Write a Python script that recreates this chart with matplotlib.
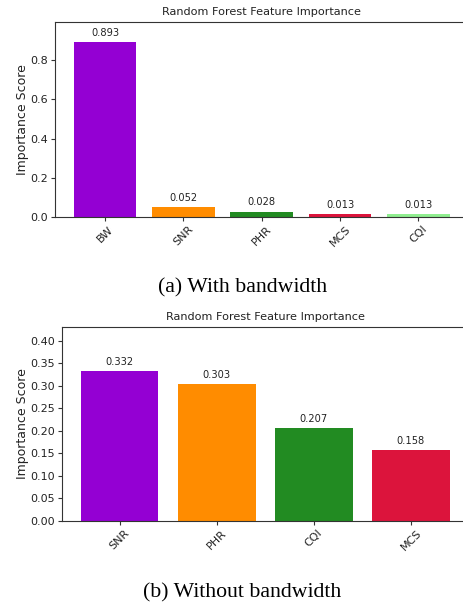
import matplotlib
matplotlib.use("Agg")
import matplotlib.pyplot as plt

# Feature importances from the random forest, with and without the bandwidth feature
features_bw = ["BW", "SNR", "PHR", "MCS", "CQI"]
scores_bw = [0.893, 0.052, 0.028, 0.013, 0.013]
colors_bw = ["darkviolet", "darkorange", "forestgreen", "crimson", "lightgreen"]

features_nobw = ["SNR", "PHR", "CQI", "MCS"]
scores_nobw = [0.332, 0.303, 0.207, 0.158]
colors_nobw = ["darkviolet", "darkorange", "forestgreen", "crimson"]

yticks_bw = [0.0, 0.2, 0.4, 0.6, 0.8]
yticks_nobw = [0.00, 0.05, 0.10, 0.15, 0.20, 0.25, 0.30, 0.35, 0.40]

W, H = 463, 605
fig = plt.figure(figsize=(W / 100, H / 100), dpi=100)


def px_axes(left, right, top, bottom):
    return fig.add_axes([left / W, (H - bottom) / H, (right - left) / W, (bottom - top) / H])


def draw_panel(ax, names, vals, cols, yticks, ytop, fmt, xpad):
    x = list(range(len(names)))
    bars = ax.bar(x, vals, color=cols, width=0.8)
    for b, v in zip(bars, vals):
        ax.annotate(f"{v:.3f}", (b.get_x() + b.get_width() / 2, v),
                    xytext=(0, 3), textcoords="offset points",
                    ha="center", va="bottom", fontsize=7.1, color="#222222")
    ax.set_xticks(x)
    ax.set_xticklabels(names, rotation=45, fontsize=8, color="#222222")
    ax.set_yticks(yticks)
    ax.set_yticklabels([fmt.format(t) for t in yticks], fontsize=8, color="#222222")
    ax.set_ylim(0, ytop)
    ax.set_xlim(-0.4 - xpad, len(names) - 0.6 + xpad)
    ax.set_ylabel("Importance Score", fontsize=9, color="#222222", labelpad=1)
    ax.set_title("Random Forest Feature Importance", fontsize=8.1, pad=5, color="#222222")
    ax.tick_params(length=3, width=0.8, pad=2, color="#333333")
    for s in ax.spines.values():
        s.set_linewidth(0.8)
        s.set_color("#333333")


ax1 = px_axes(55, 468.5, 22.3, 217)
draw_panel(ax1, features_bw, scores_bw, colors_bw, yticks_bw, 0.994, "{:.1f}", 0.24)

ax2 = px_axes(62.3, 468.3, 326.5, 521)
draw_panel(ax2, features_nobw, scores_nobw, colors_nobw, yticks_nobw, 0.4316, "{:.2f}", 0.19)

fig.text(242.5 / W, 1 - 288 / H, "(a) With bandwidth", ha="center", va="center",
         family="Liberation Serif", fontsize=15.7)
fig.text(242.5 / W, 1 - 593 / H, "(b) Without bandwidth", ha="center", va="center",
         family="Liberation Serif", fontsize=15.7)

fig.savefig("out.png", dpi=100)
